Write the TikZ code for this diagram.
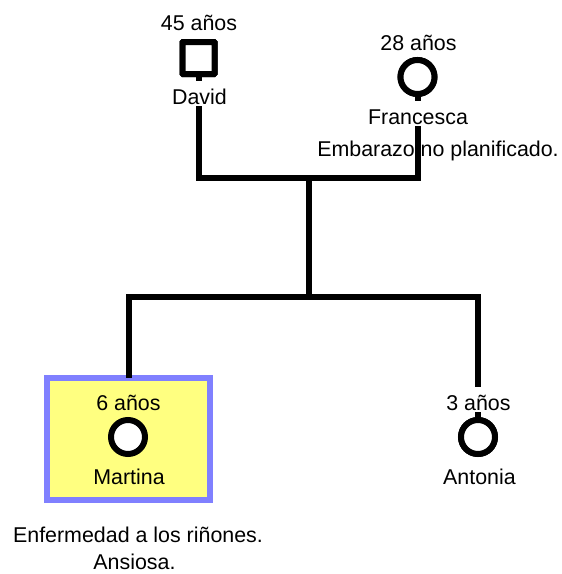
\documentclass[tikz,border=0pt]{standalone}
\usepackage{fontspec}
\setmainfont{Liberation Sans}
\definecolor{boxblue}{HTML}{8080FF}
\definecolor{boxyellow}{HTML}{FFFF80}
\tikzset{
  txt/.style={inner sep=0pt,anchor=base,font=\fontsize{21.4}{27}\selectfont,text=black},
  lbl/.style={txt,fill=white,inner xsep=1pt,inner ysep=0pt,text height=23.5pt,text depth=2pt},
  link/.style={line width=6pt,black},
  male/.style={draw=black,fill=white,line width=6pt,minimum size=32pt,inner sep=0pt,rounded corners=0.5pt},
  female/.style={circle,draw=black,fill=white,line width=6pt,minimum size=34pt,inner sep=0pt},
  focus/.style={draw=boxblue,fill=boxyellow,line width=6pt,minimum width=163pt,minimum height=122pt,inner sep=0pt}
}
\begin{document}
\begin{tikzpicture}[x=1pt,y=-1pt]
\useasboundingbox (0,0) rectangle (562,574);
\node[txt] (note) at (438,156) {Embarazo no planificado.};
\node[focus] (box) at (128.5,439) {};
\coordinate (jtop) at (309,178);
\coordinate (jbot) at (309,297);
\coordinate (jl) at (129,297);
\coordinate (jr) at (478,297);
\coordinate (dl) at (198.5,178);
\coordinate (fr) at (417.5,178);
\node[male] (david) at (198.5,58) {};
\node[female] (fran) at (417.5,77) {};
\node[female] (ant) at (478,437) {};
\draw[link,line cap=rect] (david.south) -- (dl) -- (fr) -- (fran.south);
\draw[link] (jtop) -- (jbot);
\draw[link,line cap=rect] (ant.north) -- (jr) -- (jl) -- (jl |- box.north);
\node[female] at (ant) {};
\node[male] at (david) {};
\node[female] at (fran) {};
\node[female] (mar) at (128,437) {};
\node[lbl] (a45) at (199,30) {45 años};
\node[lbl] (ndavid) at (199.5,104) {David};
\node[lbl] (a28) at (418.5,50) {28 años};
\node[lbl] (nfran) at (418,124) {Francesca};
\node[txt] (a6) at (128.5,410) {6 años};
\node[txt] (nmar) at (129,484) {Martina};
\node[lbl] (a3) at (478.5,410) {3 años};
\node[lbl] (nant) at (479.5,484) {Antonia};
\node[txt] (info) at (138,542) {Enfermedad a los riñones.};
\node[txt] (info2) at (134.5,569) {Ansiosa.};
\end{tikzpicture}
\end{document}
